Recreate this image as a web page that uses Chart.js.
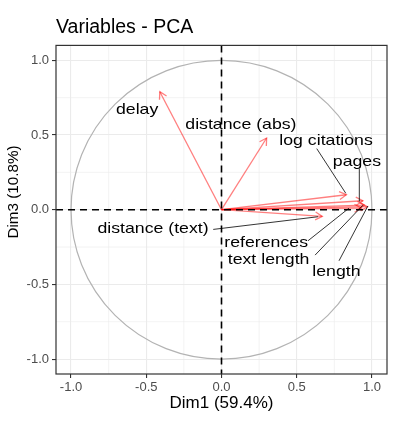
<!DOCTYPE html>
<html>
<head>
<meta charset="utf-8">
<script src="https://cdn.jsdelivr.net/npm/chart.js@4.4.1/dist/chart.umd.min.js"></script>
<style>
  body { margin: 0; background: #fff; }
  #wrap { width: 394px; height: 433px; }
</style>
</head>
<body>
<div id="wrap"><canvas id="myChart"></canvas></div>
<script>
// variable coordinates on Dim1 / Dim3
const variables = ['delay', 'distance (abs)', 'log citations', 'pages', 'distance (text)', 'references', 'text length', 'length'];
const dim1 = [-0.41, 0.30, 0.83, 0.94, 0.67, 0.93, 0.95, 0.97];
const dim3 = [0.79, 0.48, 0.10, 0.06, -0.045, 0.01, 0.03, 0.02];

const tickValues = [-1, -0.5, 0, 0.5, 1];
const tickLabels = ['-1.0', '-0.5', '0.0', '0.5', '1.0'];
const minorValues = [-0.75, -0.25, 0.25, 0.75];

// label placement in data units: [labelX, labelY] and leader segment [x1, y1, x2, y2]
const labelPos = [
    [-0.561, 0.667], [0.129, 0.571], [0.695, 0.460], [0.900, 0.317],
    [-0.455, -0.130], [0.297, -0.219], [0.313, -0.337], [0.764, -0.415]
];
const leaders = [
    null, null,
    [0.633, 0.409, 0.826, 0.110],
    [0.916, 0.275, 0.916, 0.055],
    [-0.055, -0.132, 0.642, -0.047],
    [0.575, -0.208, 0.847, 0.010],
    [0.622, -0.304, 0.940, 0.030],
    [0.781, -0.342, 0.973, 0.025]
];

const arrowColor = 'rgba(255, 0, 0, 0.5)';

const datasets = variables.map((v, i) => ({
    label: v,
    data: [{ x: 0, y: 0 }, { x: dim1[i], y: dim3[i] }],
    showLine: true,
    borderColor: arrowColor,
    borderWidth: 1.3,
    pointRadius: 0
}));

const pcaDecor = {
    id: 'pcaDecor',
    beforeDatasetsDraw(chart) {
        const { ctx, chartArea: a, scales: { x, y } } = chart;
        ctx.save();
        // minor grid
        ctx.strokeStyle = '#ebebeb';
        ctx.lineWidth = 0.6;
        minorValues.forEach(v => {
            const px = x.getPixelForValue(v), py = y.getPixelForValue(v);
            ctx.beginPath(); ctx.moveTo(px, a.top); ctx.lineTo(px, a.bottom); ctx.stroke();
            ctx.beginPath(); ctx.moveTo(a.left, py); ctx.lineTo(a.right, py); ctx.stroke();
        });
        // correlation circle
        const cx = x.getPixelForValue(0), cy = y.getPixelForValue(0);
        const rx = x.getPixelForValue(1) - cx, ry = cy - y.getPixelForValue(1);
        ctx.strokeStyle = '#b3b3b3';
        ctx.lineWidth = 1.2;
        ctx.beginPath();
        ctx.ellipse(cx, cy, rx, ry, 0, 0, Math.PI * 2);
        ctx.stroke();
        ctx.restore();
    },
    afterDatasetsDraw(chart) {
        const { ctx, chartArea: a, scales: { x, y } } = chart;
        ctx.save();
        const cx = x.getPixelForValue(0), cy = y.getPixelForValue(0);

        // arrow heads
        ctx.strokeStyle = arrowColor;
        ctx.lineWidth = 1.3;
        variables.forEach((v, i) => {
            const tx = x.getPixelForValue(dim1[i]), ty = y.getPixelForValue(dim3[i]);
            const ang = Math.atan2(ty - cy, tx - cx);
            const len = 8, spread = Math.PI / 6;
            ctx.beginPath();
            ctx.moveTo(tx - len * Math.cos(ang - spread), ty - len * Math.sin(ang - spread));
            ctx.lineTo(tx, ty);
            ctx.lineTo(tx - len * Math.cos(ang + spread), ty - len * Math.sin(ang + spread));
            ctx.stroke();
        });

        // dashed zero lines
        ctx.strokeStyle = '#000';
        ctx.lineWidth = 1.6;
        ctx.setLineDash([7, 5]);
        ctx.beginPath(); ctx.moveTo(cx, a.top); ctx.lineTo(cx, a.bottom); ctx.stroke();
        ctx.beginPath(); ctx.moveTo(a.left, cy); ctx.lineTo(a.right, cy); ctx.stroke();
        ctx.setLineDash([]);

        // leader lines
        ctx.strokeStyle = '#000';
        ctx.lineWidth = 0.8;
        leaders.forEach(s => {
            if (!s) return;
            ctx.beginPath();
            ctx.moveTo(x.getPixelForValue(s[0]), y.getPixelForValue(s[1]));
            ctx.lineTo(x.getPixelForValue(s[2]), y.getPixelForValue(s[3]));
            ctx.stroke();
        });

        // labels
        ctx.fillStyle = '#000';
        ctx.font = '15px "Liberation Sans", Arial, sans-serif';
        ctx.textAlign = 'center';
        ctx.textBaseline = 'middle';
        variables.forEach((v, i) => {
            const px = x.getPixelForValue(labelPos[i][0]), py = y.getPixelForValue(labelPos[i][1]);
            ctx.save();
            ctx.translate(px, py);
            ctx.scale(1.18, 1);
            ctx.fillText(v, 0, 0);
            ctx.restore();
        });

        // panel border
        ctx.strokeStyle = '#333';
        ctx.lineWidth = 1.2;
        ctx.strokeRect(a.left, a.top, a.right - a.left, a.bottom - a.top);

        // y axis title
        ctx.fillStyle = '#000';
        ctx.font = '14.5px "Liberation Sans", Arial, sans-serif';
        ctx.translate(13.8, 192);
        ctx.rotate(-Math.PI / 2);
        ctx.scale(1.05, 1);
        ctx.fillText('Dim3 (10.8%)', 0, 0);
        ctx.restore();
    }
};

const ctx = document.getElementById('myChart');
new Chart(ctx, {
    type: 'scatter',
    data: { datasets: datasets },
    plugins: [pcaDecor],
    options: {
        responsive: true,
        maintainAspectRatio: false,
        animation: false,
        layout: { padding: { left: 0, right: 7, top: 0, bottom: 0 } },
        plugins: {
            legend: { display: false },
            tooltip: { enabled: false },
            title: {
                display: true,
                text: 'Variables - PCA',
                align: 'start',
                fullSize: false,
                color: '#000',
                font: { family: '"Liberation Sans", Arial, sans-serif', size: 19.5, weight: 'normal' },
                padding: { top: 16, bottom: 6 }
            }
        },
        scales: {
            x: {
                type: 'linear',
                min: -1.1,
                max: 1.1,
                afterBuildTicks: (scale) => { scale.ticks = tickValues.map(v => ({ value: v })); },
                afterFit: (scale) => { scale.height = 59; },
                ticks: {
                    callback: (v) => tickLabels[tickValues.indexOf(v)],
                    color: '#4d4d4d',
                    font: { family: '"Liberation Sans", Arial, sans-serif', size: 13 },
                    padding: 2,
                    maxRotation: 0
                },
                grid: { color: '#ebebeb', lineWidth: 1.1, tickColor: '#333', tickLength: 4 },
                border: { display: false },
                title: {
                    display: true,
                    text: 'Dim1 (59.4%)',
                    color: '#000',
                    font: { family: '"Liberation Sans", Arial, sans-serif', size: 17 },
                    padding: { top: 0, bottom: 19 }
                }
            },
            y: {
                type: 'linear',
                min: -1.1,
                max: 1.1,
                afterBuildTicks: (scale) => { scale.ticks = tickValues.map(v => ({ value: v })); },
                afterFit: (scale) => { scale.width = 56; },
                ticks: {
                    callback: (v) => tickLabels[tickValues.indexOf(v)],
                    color: '#4d4d4d',
                    font: { family: '"Liberation Sans", Arial, sans-serif', size: 13 },
                    padding: 3
                },
                grid: { color: '#ebebeb', lineWidth: 1.1, tickColor: '#333', tickLength: 4 },
                border: { display: false }
            }
        }
    }
});
</script>
</body>
</html>
